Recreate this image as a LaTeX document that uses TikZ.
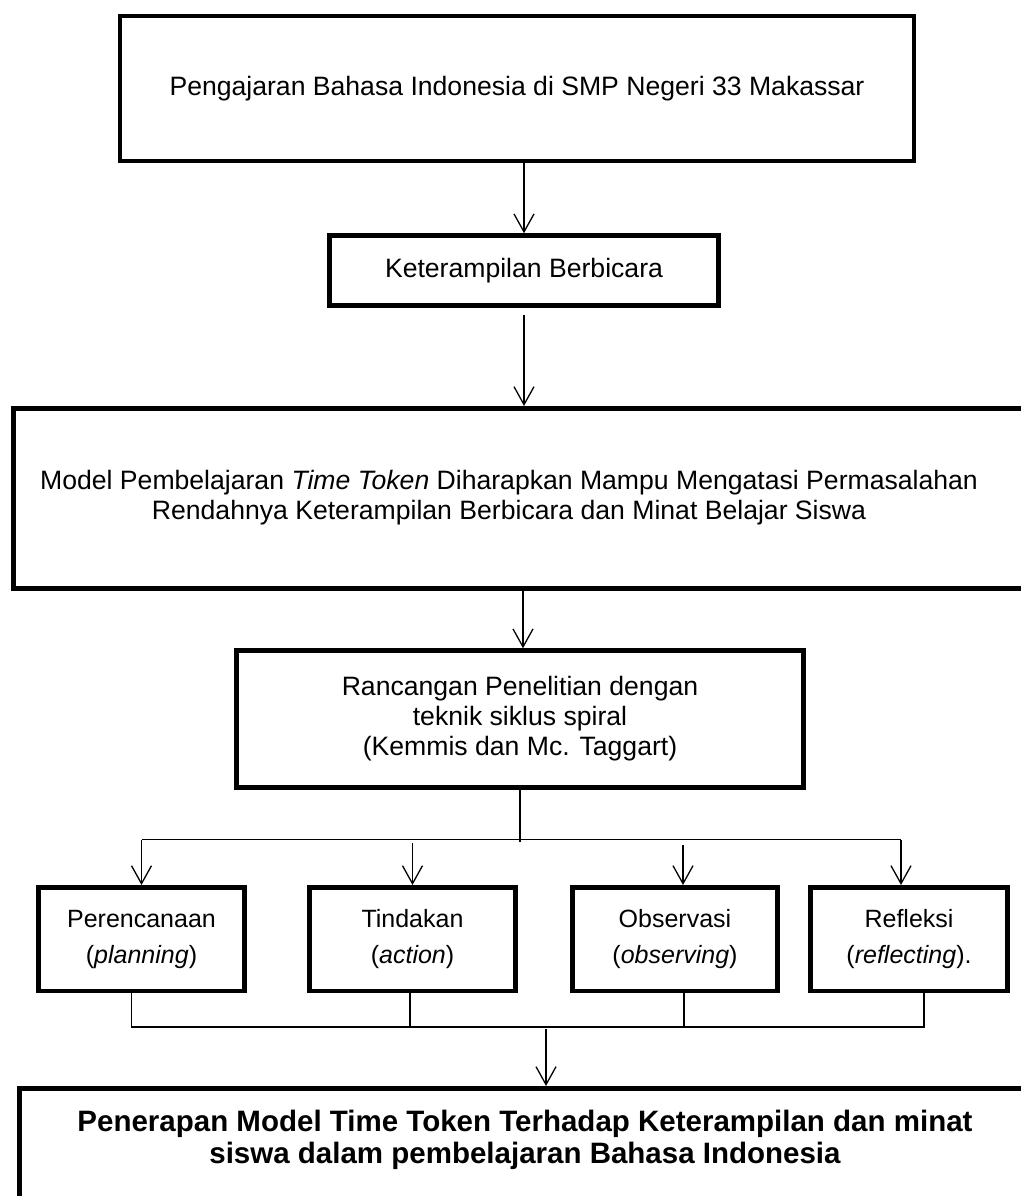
\documentclass[tikz,border=0pt]{standalone}
\usepackage{fontspec}
\setmainfont{Liberation Sans}
\usetikzlibrary{arrows.meta,positioning,calc}

\begin{document}
\begin{tikzpicture}[x=1pt,y=-1pt,
  box/.style={draw,line width=4.5pt,align=center,inner sep=0pt,font=\fontsize{26.6}{30}\selectfont},
  frame/.style={draw,line width=4.5pt,inner sep=0pt,anchor=north west},
  stage/.style={box,minimum height=103.5,font=\fontsize{25}{36}\selectfont},
  arr/.style={line width=1.3pt,-{Straight Barb[length=18pt,width=20pt,line width=1.3pt]}},
  line/.style={line width=1.3pt}
]
\useasboundingbox (0,0) rectangle (1020,1196);

\node[box,minimum width=794,minimum height=145] (school) at (517,88.5) {Pengajaran Bahasa Indonesia di SMP Negeri 33 Makassar};
\node[box,minimum width=389,minimum height=70] (skill) at (524,270.5) {Keterampilan Berbicara};
\node[frame,minimum width=1040,minimum height=180] (modelbox) at (11,406) {};
\node[align=center,font=\fontsize{26.6}{30}\selectfont] (model) at (509,498) {Model Pembelajaran \textit{Time Token} Diharapkan Mampu Mengatasi Permasalahan\\Rendahnya Keterampilan Berbicara dan Minat Belajar Siswa};
\node[box,minimum width=567,minimum height=137] (design) at (520,719) {Rancangan Penelitian dengan\\teknik siklus spiral\\(Kemmis dan Mc. Taggart)};

% tahapan siklus
\node[stage,minimum width=206] (plan) at (141.5,939) {Perencanaan\\(\textit{planning})};
\node[stage,minimum width=206] (act) at (412.5,939) {Tindakan\\(\textit{action})};
\node[stage,minimum width=205] (obs) at (675,939) {Observasi\\(\textit{observing})};
\node[stage,minimum width=197] (refl) at (909,939) {Refleksi\\(\textit{reflecting}).};

\node[frame,minimum width=1040,minimum height=150] (resultbox) at (17,1086) {};
\node[align=center,font=\fontsize{29.5}{32}\selectfont\bfseries] (result) at (525,1140) {Penerapan Model Time Token Terhadap Keterampilan dan minat\\siswa dalam pembelajaran Bahasa Indonesia};

\draw[arr] (school.south -| skill.north) -- (skill.north);
\draw[arr] ([yshift=-7]skill.south) -- (skill.south |- modelbox.north);
\draw[arr] ([xshift=3]design.north |- modelbox.south) -- ([xshift=3]design.north);

% cabang ke empat tahap
\coordinate (split) at ($(design.south)+(0,50)$);
\draw[line] (design.south) -- ([yshift=-2]split);
\draw[line] (plan.north |- split) -- ([xshift=-8]refl.north |- split);
\draw[arr] (plan.north |- split) -- (plan.north);
\draw[arr] ([yshift=-3]act.north |- split) -- (act.north);
\draw[arr] ([xshift=8,yshift=-5]obs.north |- split) -- ([xshift=8]obs.north);
\draw[arr] ([xshift=-8]refl.north |- split) -- ([xshift=-8]refl.north);

% gabungan
\coordinate (join) at ($(plan.south)+(0,34)$);
\draw[line] ([xshift=-10]plan.south) -- ([xshift=-10]plan.south |- join) -- ([xshift=15]refl.south |- join) -- ([xshift=15]refl.south);
\draw[line] ([xshift=-2.5]act.south) -- ([xshift=-2.5]act.south |- join);
\draw[line] ([xshift=9]obs.south) -- ([xshift=9]obs.south |- join);
\draw[arr] ([xshift=21,yshift=-2]result.north |- join) -- ([xshift=21]result.north |- resultbox.north);
\end{tikzpicture}
\end{document}
